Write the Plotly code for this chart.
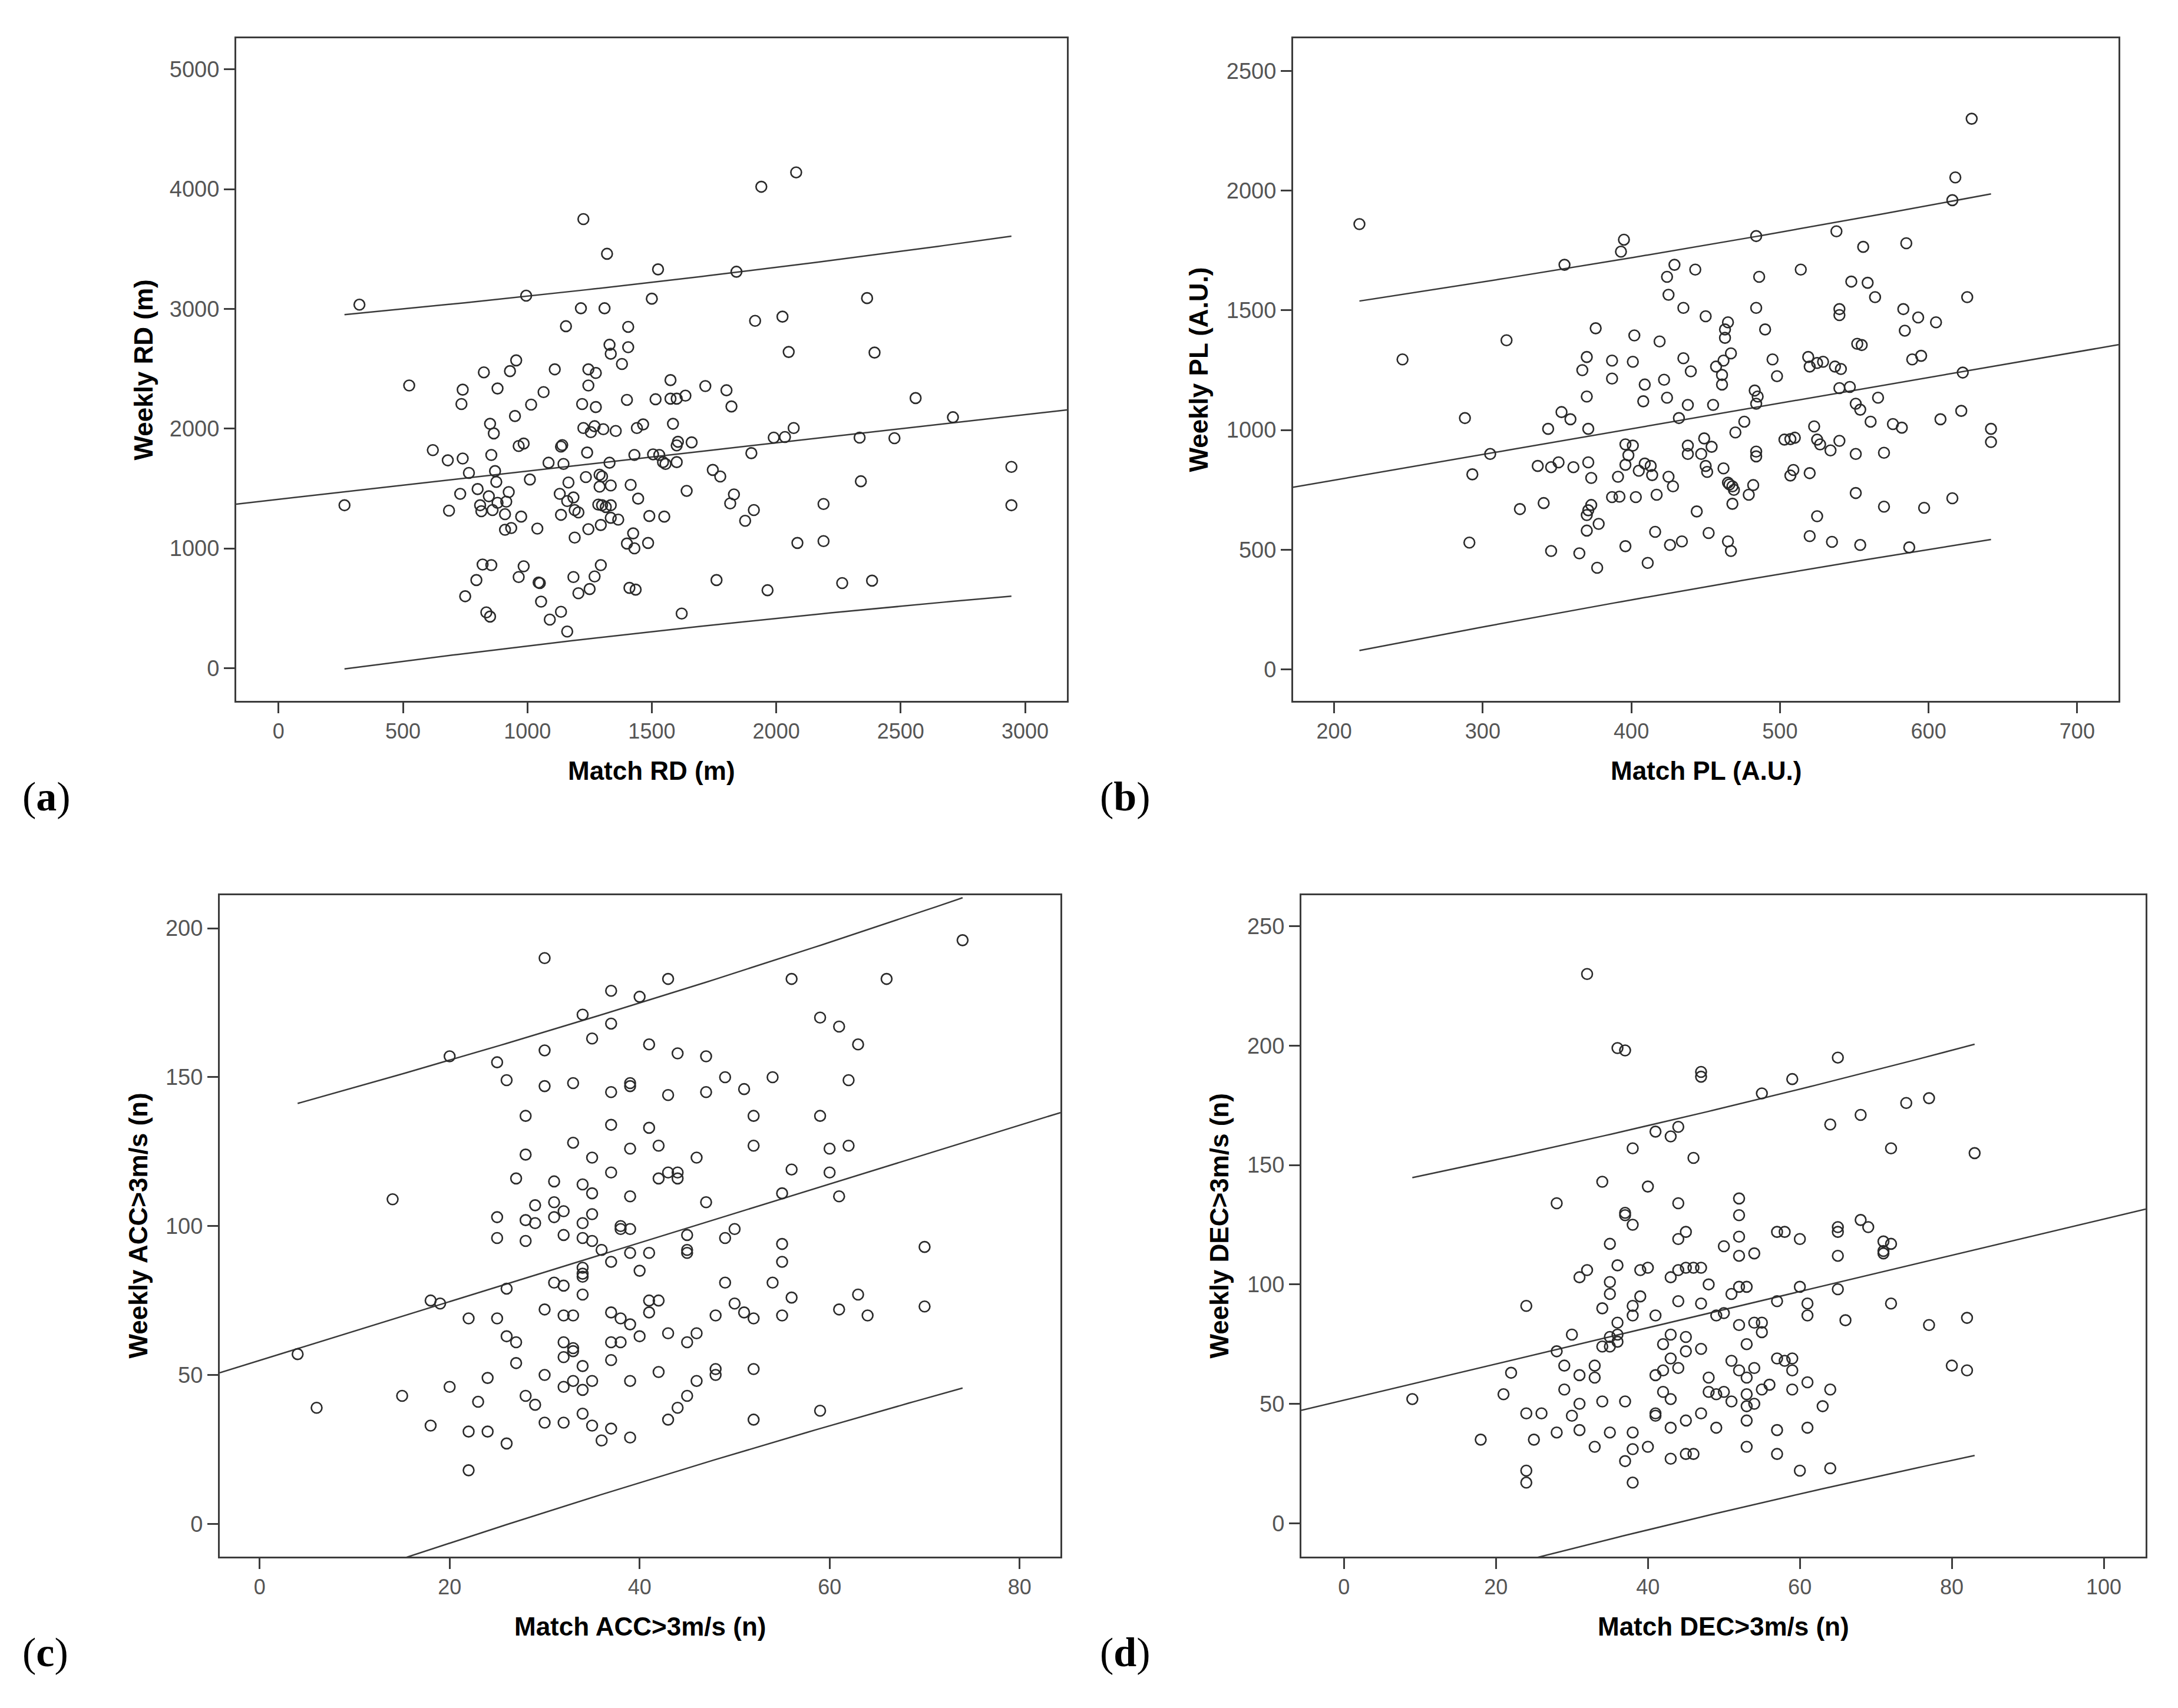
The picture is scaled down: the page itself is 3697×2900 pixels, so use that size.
import numpy as np
import plotly.graph_objects as go

W, H = 3697, 2900

# ---- (a) running distance (m)
rd_match = [2080, 1940, 1225, 1320, 1525, 1840, 325, 995, 1500, 2365, 1215, 1310, 1155, 1405, 1915,
            2025, 1330, 1335, 1405, 2050, 2395, 1380, 955, 930, 825, 1110, 1245, 1275, 1245, 525,
            740, 880, 1065, 1575, 1715, 1800, 735, 1015, 1220, 1275, 1400, 1515, 1575, 1600, 1635,
            1820, 2560, 850, 865, 950, 1225, 1255, 1270, 1305, 1355, 1440, 1465, 1585, 2070, 2710,
            1990, 2035, 2335, 2475, 620, 965, 985, 1135, 1140, 1240, 1430, 1505, 1530, 1605, 1600,
            1660, 1900, 855, 680, 740, 1085, 1145, 1330, 1545, 1555, 1600, 2945, 765, 870, 875,
            1010, 1165, 1235, 1290, 1300, 1290, 1335, 1415, 1745, 1775, 2340, 730, 800, 845, 925,
            1130, 1185, 1160, 880, 915, 810, 815, 860, 910, 685, 975, 1190, 1205, 1285, 1300,
            1315, 1335, 1445, 1640, 1830, 1815, 1910, 2190, 2945, 265, 1135, 1365, 1335, 1295, 1245,
            1490, 1550, 1875, 910, 935, 1040, 1425, 1400, 1430, 1485, 1190, 2085, 2190, 820, 855,
            985, 1295, 795, 965, 1045, 1050, 1185, 1270, 1250, 1205, 1410, 1435, 1760, 1965, 2265,
            2385, 750, 1055, 835, 850, 1135, 1090, 1160, 1620]
rd_weekly = [4140, 4020, 3750, 3460, 3330, 3310, 3035, 3110, 3085, 3090, 3005, 3005, 2855, 2850, 2900,
             2935, 2700, 2625, 2680, 2640, 2635, 2540, 2570, 2480, 2470, 2495, 2495, 2465, 2360, 2360,
             2325, 2335, 2305, 2405, 2355, 2320, 2205, 2200, 2205, 2180, 2240, 2245, 2250, 2250, 2275,
             2185, 2255, 2040, 1960, 2105, 2005, 1970, 2020, 1995, 1980, 2005, 2035, 2040, 2005, 2095,
             1925, 1930, 1925, 1920, 1820, 1855, 1875, 1850, 1862, 1800, 1780, 1785, 1780, 1890, 1860,
             1885, 1795, 1780, 1735, 1750, 1715, 1705, 1715, 1720, 1705, 1720, 1680, 1630, 1645, 1555,
             1575, 1550, 1595, 1615, 1600, 1515, 1525, 1530, 1655, 1600, 1560, 1455, 1495, 1435, 1470,
             1455, 1425, 1395, 1380, 1390, 1360, 1310, 1320, 1285, 1315, 1265, 1320, 1300, 1365, 1360,
             1345, 1360, 1415, 1480, 1450, 1375, 1320, 1370, 1360, 1360, 1280, 1240, 1255, 1195, 1160,
             1270, 1265, 1230, 1155, 1170, 1165, 1125, 1040, 1000, 1045, 1090, 1045, 1060, 865, 860,
             850, 860, 735, 760, 715, 710, 760, 765, 660, 625, 670, 655, 735, 650, 710,
             730, 600, 555, 465, 430, 470, 405, 305, 455]

# ---- (b) player load (A.U.)
pl_match = [217, 629, 618, 616, 484, 538, 556, 585, 395, 393, 355, 429, 443, 424, 425, 486, 514, 548,
            559, 564, 626, 435, 450, 484, 540, 540, 583, 593, 605, 584, 465, 463, 463, 490, 376, 316,
            402, 419, 246, 370, 387, 401, 435, 467, 462, 457, 495, 519, 520, 525, 529, 537, 541, 552,
            555, 589, 595, 367, 440, 461, 498, 623, 422, 387, 409, 461, 370, 424, 408, 438, 455, 483,
            485, 484, 540, 547, 551, 554, 566, 622, 608, 353, 359, 288, 344, 371, 432, 476, 470, 561,
            576, 582, 523, 642, 642, 396, 401, 438, 438, 449, 447, 454, 503, 507, 510, 525, 527, 540,
            534, 551, 570, 484, 484, 305, 398, 293, 337, 346, 351, 361, 371, 373, 396, 405, 409, 413,
            414, 391, 425, 428, 450, 451, 462, 465, 466, 468, 469, 482, 479, 507, 509, 520, 551, 325,
            341, 373, 371, 370, 370, 378, 387, 392, 403, 417, 444, 468, 525, 570, 597, 616, 291, 346,
            365, 377, 396, 411, 416, 426, 434, 452, 465, 467, 520, 535, 554, 587]
pl_weekly = [1860, 2300, 2055, 1960, 1810, 1830, 1765, 1780, 1795, 1745, 1690, 1690, 1670, 1640, 1565,
             1640, 1670, 1620, 1615, 1555, 1555, 1510, 1475, 1510, 1505, 1480, 1505, 1470, 1450, 1415,
             1450, 1420, 1385, 1420, 1425, 1375, 1395, 1370, 1295, 1305, 1290, 1285, 1300, 1320, 1290,
             1265, 1295, 1305, 1265, 1280, 1285, 1265, 1255, 1360, 1355, 1295, 1310, 1250, 1245, 1230,
             1225, 1240, 1210, 1215, 1190, 1190, 1140, 1135, 1120, 1105, 1105, 1165, 1140, 1110, 1175,
             1180, 1110, 1085, 1135, 1080, 1045, 1075, 1045, 1050, 1005, 1005, 1050, 1035, 990, 1035,
             1025, 1010, 1015, 1005, 950, 940, 935, 935, 900, 965, 900, 930, 960, 962, 968, 960, 940,
             955, 915, 900, 905, 910, 890, 900, 895, 815, 850, 845, 865, 845, 865, 800, 855, 830, 860,
             850, 812, 805, 805, 765, 850, 825, 840, 780, 773, 765, 750, 770, 730, 810, 833, 820, 737,
             670, 695, 687, 665, 645, 580, 608, 720, 722, 720, 730, 660, 692, 640, 680, 675, 715, 530,
             495, 485, 425, 515, 445, 575, 520, 535, 570, 535, 495, 557, 533, 520, 510]

# ---- (c) accelerations > 3 m/s (n)
acc_match = [30, 74, 43, 56, 66, 37, 40, 34, 37, 35, 59, 61, 63, 41, 44, 47, 20, 25, 30, 26, 30, 33, 39,
             39, 37, 43, 47, 49, 51, 54, 62, 28, 37, 41, 52, 59, 33, 39, 42, 35, 46, 52, 60, 62, 28, 27,
             31, 34, 35, 37, 42, 43, 44, 44, 39, 47, 56, 60, 55, 61, 14, 29, 31, 32, 31, 28, 29, 34, 35,
             25, 38, 38, 39, 25, 28, 32, 34, 35, 36, 45, 49, 50, 39, 41, 45, 45, 37, 40, 34, 34, 34, 31,
             32, 34, 26, 55, 55, 54, 49, 70, 56, 63, 18, 19, 22, 25, 30, 32, 33, 37, 38, 39, 41, 42, 41,
             48, 50, 51, 52, 55, 61, 64, 70, 26, 27, 32, 33, 33, 37, 38, 40, 43, 45, 46, 27, 32, 34, 37,
             30, 24, 20, 32, 33, 34, 35, 39, 42, 48, 48, 52, 46, 45, 44, 15, 6, 4, 23, 28, 29, 18, 22,
             24, 26, 30, 32, 34, 35, 37, 36, 39, 43, 52, 59, 22]
acc_weekly = [190, 196, 183, 183, 183, 179, 177, 171, 168, 163, 170, 167, 161, 161, 158, 157, 157, 155,
              159, 149, 147, 148, 148, 147, 145, 144, 145, 150, 146, 150, 149, 137, 134, 133, 137, 137,
              128, 126, 127, 123, 123, 127, 126, 127, 124, 116, 115, 114, 111, 118, 116, 118, 118, 116,
              110, 108, 119, 118, 111, 110, 109, 107, 108, 105, 103, 102, 101, 101, 104, 103, 100, 99,
              99, 96, 95, 97, 96, 95, 92, 97, 96, 99, 91, 91, 91, 92, 88, 85, 86, 84, 83, 81, 80, 77,
              79, 94, 88, 81, 81, 93, 76, 77, 75, 74, 69, 69, 72, 70, 70, 71, 69, 67, 75, 75, 71, 70,
              74, 71, 69, 70, 72, 70, 73, 63, 61, 61, 59, 58, 61, 61, 63, 64, 61, 64, 54, 56, 53, 55,
              50, 49, 46, 46, 48, 45, 48, 48, 51, 52, 50, 52, 48, 43, 39, 43, 39, 57, 41, 43, 40, 33,
              31, 31, 27, 34, 34, 37, 33, 32, 28, 29, 35, 35, 38, 18]

# ---- (d) decelerations > 3 m/s (n)
dec_match = [32, 36, 37, 65, 47, 47, 59, 55, 74, 77, 68, 64, 41, 44, 43, 38, 46, 72, 83, 34, 40, 28, 44,
             52, 52, 37, 37, 38, 45, 44, 35, 57, 58, 60, 65, 65, 68, 69, 71, 71, 71, 72, 50, 52, 52, 54,
             65, 31, 32, 35, 36, 39, 40, 43, 44, 45, 46, 47, 48, 35, 39, 34, 38, 44, 47, 51, 52, 53, 60,
             65, 57, 61, 61, 24, 38, 41, 36, 49, 50, 52, 54, 55, 55, 66, 72, 77, 82, 30, 34, 35, 36, 35,
             36, 43, 45, 42, 53, 28, 47, 45, 43, 42, 41, 44, 43, 42, 48, 51, 52, 53, 54, 57, 58, 59, 59,
             29, 33, 31, 33, 29, 31, 34, 37, 48, 49, 50, 51, 53, 54, 53, 55, 56, 59, 61, 64, 63, 80, 82,
             21, 22, 9, 24, 26, 30, 41, 41, 47, 45, 53, 18, 25, 28, 31, 35, 38, 43, 49, 57, 61, 33, 38,
             40, 43, 45, 46, 53, 57, 37, 24, 24, 38, 60, 64]
dec_weekly = [230, 199, 198, 195, 189, 187, 186, 180, 176, 178, 171, 167, 164, 166, 162, 157, 153, 157,
              155, 143, 141, 134, 134, 136, 129, 130, 129, 125, 122, 119, 117, 122, 122, 119, 124, 122,
              127, 124, 118, 114, 113, 117, 116, 120, 112, 113, 112, 103, 106, 101, 108, 106, 107, 103,
              106, 107, 107, 107, 100, 96, 95, 90, 91, 93, 92, 96, 99, 99, 99, 98, 93, 92, 87, 91, 87,
              87, 84, 87, 88, 83, 84, 84, 80, 85, 92, 83, 86, 79, 74, 74, 76, 78, 79, 79, 78, 75, 75, 72,
              73, 72, 69, 64, 62, 65, 52, 55, 61, 68, 64, 61, 65, 69, 68, 69, 64, 66, 66, 62, 61, 56, 50,
              51, 51, 55, 54, 55, 51, 54, 50, 49, 56, 58, 56, 59, 56, 49, 66, 64, 54, 63, 52, 46, 46, 45,
              46, 45, 46, 43, 43, 35, 35, 38, 39, 38, 38, 40, 40, 39, 40, 32, 31, 32, 27, 29, 29, 32, 29,
              26, 22, 17, 17, 22, 23]

T_CRIT = 1.974  # two-sided 95 %, df ~ 170

panels = [
    dict(x=rd_match, y=rd_weekly, xr=[-170, 3168], yr=[-274, 5260], xt=list(range(0, 3001, 500)),
         yt=list(range(0, 5001, 1000)), xtitle="Match RD (m)", ytitle="Weekly RD (m)", tag="a",
         box=(393, 1803, 57, 1182), ytx=235, tagx=28),
    dict(x=pl_match, y=pl_weekly, xr=[172.4, 727.8], yr=[-131, 2636], xt=list(range(200, 701, 100)),
         yt=list(range(0, 2501, 500)), xtitle="Match PL (A.U.)", ytitle="Weekly PL (A.U.)", tag="b",
         box=(2187, 3588, 57, 1182), ytx=2026, tagx=1857),
    dict(x=acc_match, y=acc_weekly, xr=[-4.2, 84.3], yr=[-11, 211.1], xt=list(range(0, 81, 20)),
         yt=list(range(0, 201, 50)), xtitle="Match ACC&gt;3m/s (n)", ytitle="Weekly ACC&gt;3m/s (n)",
         tag="c", box=(365, 1792, 1512, 2635), ytx=226, tagx=28),
    dict(x=dec_match, y=dec_weekly, xr=[-5.6, 105.5], yr=[-14, 263], xt=list(range(0, 101, 20)),
         yt=list(range(0, 251, 50)), xtitle="Match DEC&gt;3m/s (n)", ytitle="Weekly DEC&gt;3m/s (n)",
         tag="d", box=(2201, 3634, 1512, 2635), ytx=2061, tagx=1857),
]

fig = go.Figure()
layout = dict(width=W, height=H, paper_bgcolor="white", plot_bgcolor="white",
              margin=dict(l=0, r=0, t=0, b=0), showlegend=False, annotations=[])

line_col = "#3a3a3a"
title_font = dict(family="Liberation Sans Narrow, Liberation Sans, Arial", size=44, color="black")
for i, p in enumerate(panels, start=1):
    xa, ya = ("x", "y") if i == 1 else ("x%d" % i, "y%d" % i)
    x = np.asarray(p["x"], float)
    y = np.asarray(p["y"], float)
    n = len(x)
    slope, icpt = np.polyfit(x, y, 1)
    s = np.sqrt(((y - (icpt + slope * x)) ** 2).sum() / (n - 2))
    sxx = ((x - x.mean()) ** 2).sum()

    # fit line over the whole axis
    xf = np.array(p["xr"])
    fig.add_trace(go.Scatter(x=xf, y=icpt + slope * xf, mode="lines", xaxis=xa, yaxis=ya,
                             line=dict(color=line_col, width=2.5), hoverinfo="skip"))
    # 95% prediction interval
    xs = np.linspace(x.min(), x.max(), 100)
    half = T_CRIT * s * np.sqrt(1 + 1 / n + (xs - x.mean()) ** 2 / sxx)
    for sign in (1, -1):
        fig.add_trace(go.Scatter(x=xs, y=icpt + slope * xs + sign * half, mode="lines",
                                 xaxis=xa, yaxis=ya, line=dict(color=line_col, width=2.5),
                                 hoverinfo="skip"))
    fig.add_trace(go.Scatter(x=x, y=y, mode="markers", xaxis=xa, yaxis=ya,
                             marker=dict(symbol="circle-open", size=18, color="#2a2a2a",
                                         line=dict(width=2.6, color="#2a2a2a"))))

    l, r, t, b = p["box"]
    common = dict(showgrid=False, zeroline=False, showline=True, mirror=True, linecolor="#3c3c3c",
                  linewidth=3, ticks="outside", ticklen=18, tickwidth=3, tickcolor="#3c3c3c",
                  tickfont=dict(family="Liberation Sans, Arial", size=38, color="#555555"))
    layout["xaxis" if i == 1 else "xaxis%d" % i] = dict(
        common, domain=[l / W, r / W], range=p["xr"], tickvals=p["xt"], anchor=ya,
        tickfont=dict(family="Liberation Sans Narrow, Liberation Sans, Arial", size=36, color="#555555"))
    layout["yaxis" if i == 1 else "yaxis%d" % i] = dict(
        common, domain=[1 - b / H, 1 - t / H], range=p["yr"], tickvals=p["yt"], anchor=xa)

    layout["annotations"] += [
        dict(text="<b>%s</b>" % p["xtitle"], x=(l + r) / 2 / W, y=1 - (b + 118) / H, xref="paper",
             yref="paper", showarrow=False, xanchor="center", yanchor="middle", font=title_font),
        dict(text="<b>%s</b>" % p["ytitle"], x=p["ytx"] / W, y=1 - (t + b) / 2 / H, xref="paper",
             yref="paper", showarrow=False, textangle=-90, xanchor="center", yanchor="middle",
             font=title_font),
        dict(text="(<b>%s</b>)" % p["tag"], x=p["tagx"] / W, y=1 - (b + 162) / H,
             xref="paper", yref="paper", showarrow=False, xanchor="left", yanchor="middle",
             font=dict(family="Liberation Serif, Times New Roman", size=70, color="black")),
    ]

fig.update_layout(**layout)
fig.write_html("out.html")
